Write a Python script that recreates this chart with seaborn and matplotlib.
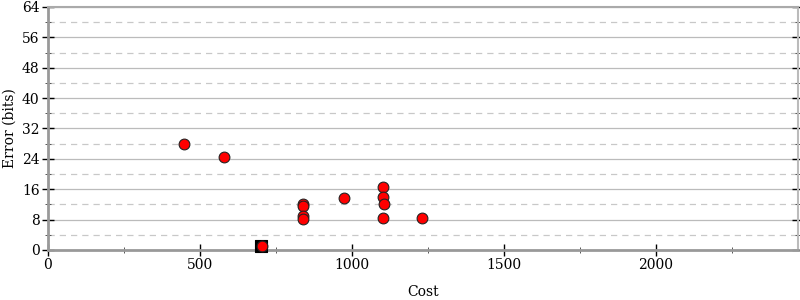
import matplotlib
matplotlib.use("Agg")
import matplotlib.pyplot as plt
import seaborn as sns
import pandas as pd
from matplotlib.ticker import MultipleLocator

sns.set_style("white")
plt.rcParams['font.family'] = ['DejaVu Serif']
plt.rcParams['text.color'] = 'black'
plt.rcParams['axes.labelcolor'] = 'black'
plt.rcParams['xtick.color'] = 'black'
plt.rcParams['ytick.color'] = 'black'

cost = [447, 579, 840, 840, 840, 840, 972, 1103, 1101, 1104, 1101, 1229, 703]
error = [28.0, 24.5, 12.0, 11.6, 8.9, 8.2, 13.6, 16.6, 13.9, 12.1, 8.5, 8.5, 1.0]
best_cost = [700]
best_error = [1.0]

df = pd.DataFrame({"Cost": cost, "Error": error})
dfb = pd.DataFrame({"Cost": best_cost, "Error": best_error})

fig = plt.figure(figsize=(8, 3), dpi=100)
ax = fig.add_axes([0.06, 0.1667, 0.9375, 0.81])

ax.set_xlim(0, 2467)
ax.set_ylim(0, 64)
ax.yaxis.set_major_locator(MultipleLocator(8))
ax.yaxis.set_minor_locator(MultipleLocator(4))
ax.xaxis.set_major_locator(MultipleLocator(500))
ax.xaxis.set_minor_locator(MultipleLocator(250))

ax.grid(True, which='major', axis='y', color='#bbbbbb', linewidth=0.9, linestyle='-')
ax.grid(True, which='minor', axis='y', color='#c8c8c8', linewidth=0.9, linestyle=(0, (5, 4)))
ax.set_axisbelow(True)

sns.scatterplot(data=dfb, x="Cost", y="Error", marker='s', s=70, color='black',
                edgecolor='black', linewidth=0.8, ax=ax, zorder=3, clip_on=False)
sns.scatterplot(data=df, x="Cost", y="Error", marker='o', s=60, color='#ff0000',
                edgecolor='#222222', linewidth=0.8, ax=ax, zorder=4, clip_on=False)

for side in ['left', 'bottom']:
    ax.spines[side].set_color('#999999')
    ax.spines[side].set_linewidth(2)
ax.spines['top'].set_color('#aaaaaa')
ax.spines['top'].set_linewidth(1.5)
ax.spines['right'].set_color('#bbbbbb')
ax.spines['right'].set_linewidth(1.5)

ax.tick_params(axis='both', which='major', direction='inout', length=8, width=1,
               color='black', labelcolor='black', labelsize=10, pad=2)
ax.tick_params(axis='both', which='minor', direction='inout', length=5, width=0.7,
               color='#555555')
ax.tick_params(axis='y', which='both', left=True, right=True)
ax.tick_params(axis='x', which='both', bottom=True, top=False)

ax.set_xlabel("Cost", fontsize=10, labelpad=9)
ax.set_ylabel("Error (bits)", fontsize=10, labelpad=4)

fig.savefig("out.png", dpi=100)
